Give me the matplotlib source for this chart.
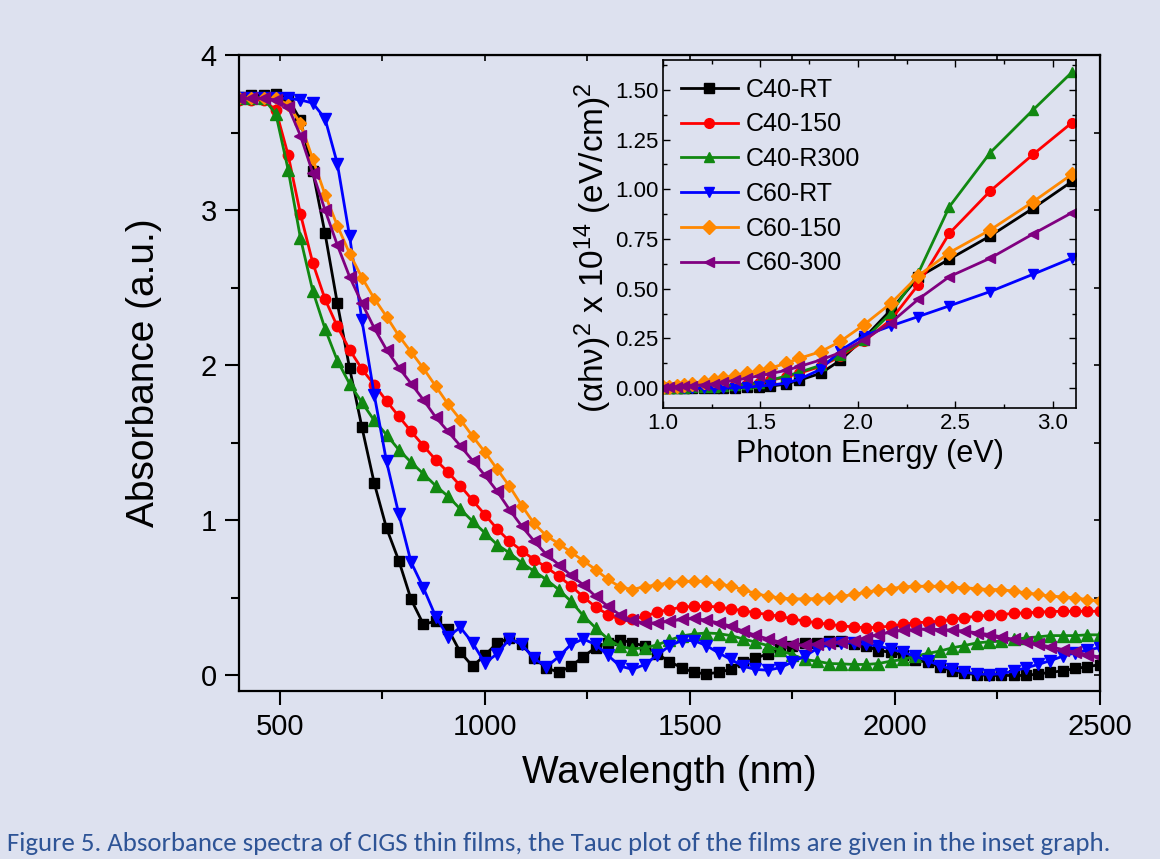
import numpy as np
import matplotlib.pyplot as plt
from matplotlib import font_manager
from matplotlib.ticker import MultipleLocator

plt.rcParams['font.family'] = ['Liberation Sans', 'DejaVu Sans']
plt.rcParams['mathtext.default'] = 'regular'

# Absorbance spectra, markers every 30 nm from 400 to 2500 nm
wavelength = np.arange(400, 2501, 30)

c40_rt = [3.73, 3.74, 3.74, 3.75, 3.72, 3.58, 3.25, 2.85, 2.40, 1.98,
          1.60, 1.24, 0.95, 0.74, 0.49, 0.33, 0.35, 0.30, 0.15, 0.06,
          0.13, 0.21, 0.24, 0.20, 0.11, 0.05, 0.02, 0.06, 0.12, 0.18,
          0.21, 0.23, 0.21, 0.19, 0.14, 0.09, 0.05, 0.02, 0.01, 0.02,
          0.04, 0.09, 0.11, 0.14, 0.17, 0.19, 0.21, 0.21, 0.22, 0.22,
          0.20, 0.19, 0.16, 0.15, 0.13, 0.10, 0.085, 0.056, 0.03, 0.013,
          0.006, 0.0, 0.0, 0.0, 0.0, 0.01, 0.02, 0.03, 0.045, 0.056,
          0.07]
c40_150 = [3.71, 3.71, 3.71, 3.645, 3.355, 2.975, 2.66, 2.426, 2.25, 2.10,
           1.975, 1.874, 1.77, 1.67, 1.573, 1.481, 1.39, 1.311, 1.223, 1.129,
           1.037, 0.944, 0.865, 0.805, 0.747, 0.698, 0.64, 0.578, 0.507, 0.442,
           0.393, 0.361, 0.363, 0.382, 0.408, 0.425, 0.44, 0.446, 0.446, 0.442,
           0.429, 0.418, 0.404, 0.393, 0.382, 0.365, 0.35, 0.34, 0.329, 0.32,
           0.313, 0.307, 0.311, 0.318, 0.329, 0.34, 0.344, 0.35, 0.361, 0.372,
           0.382, 0.389, 0.393, 0.40, 0.404, 0.408, 0.412, 0.414, 0.414, 0.414,
           0.414]
c40_r300 = [3.72, 3.72, 3.72, 3.62, 3.26, 2.82, 2.48, 2.235, 2.03, 1.88,
            1.76, 1.644, 1.552, 1.455, 1.374, 1.30, 1.223, 1.155, 1.073, 0.994,
            0.919, 0.843, 0.79, 0.726, 0.672, 0.618, 0.554, 0.478, 0.386, 0.307,
            0.236, 0.187, 0.172, 0.178, 0.197, 0.227, 0.255, 0.267, 0.274, 0.27,
            0.257, 0.236, 0.215, 0.193, 0.161, 0.135, 0.103, 0.092, 0.077, 0.075,
            0.071, 0.071, 0.077, 0.092, 0.103, 0.124, 0.142, 0.157, 0.178, 0.193,
            0.21, 0.217, 0.221, 0.232, 0.242, 0.249, 0.257, 0.257, 0.257, 0.262,
            0.262]
c60_rt = [3.72, 3.72, 3.72, 3.72, 3.72, 3.71, 3.69, 3.59, 3.30, 2.83,
          2.29, 1.81, 1.38, 1.04, 0.73, 0.565, 0.38, 0.25, 0.31, 0.21,
          0.08, 0.14, 0.236, 0.20, 0.11, 0.056, 0.12, 0.20, 0.235, 0.20,
          0.13, 0.06, 0.04, 0.07, 0.13, 0.19, 0.225, 0.225, 0.193, 0.146,
          0.103, 0.06, 0.039, 0.034, 0.05, 0.086, 0.124, 0.172, 0.20, 0.21,
          0.21, 0.20, 0.19, 0.17, 0.15, 0.124, 0.096, 0.064, 0.039, 0.021,
          0.011, 0.006, 0.011, 0.028, 0.049, 0.071, 0.096, 0.124, 0.146, 0.163,
          0.18]
c60_150 = [3.72, 3.72, 3.72, 3.72, 3.68, 3.56, 3.33, 3.10, 2.90, 2.72,
           2.565, 2.43, 2.314, 2.19, 2.085, 1.98, 1.865, 1.75, 1.65, 1.542,
           1.44, 1.33, 1.22, 1.095, 0.98, 0.90, 0.85, 0.795, 0.74, 0.683,
           0.62, 0.57, 0.554, 0.573, 0.583, 0.599, 0.607, 0.607, 0.607, 0.592,
           0.575, 0.554, 0.528, 0.511, 0.50, 0.494, 0.494, 0.496, 0.50, 0.51,
           0.522, 0.537, 0.55, 0.56, 0.571, 0.575, 0.575, 0.575, 0.571, 0.565,
           0.56, 0.554, 0.554, 0.543, 0.533, 0.522, 0.511, 0.507, 0.50, 0.489,
           0.479]
c60_300 = [3.72, 3.72, 3.72, 3.71, 3.666, 3.48, 3.24, 3.0, 2.775, 2.57,
           2.40, 2.24, 2.10, 1.985, 1.882, 1.777, 1.665, 1.573, 1.481, 1.385,
           1.29, 1.187, 1.069, 0.962, 0.867, 0.78, 0.715, 0.645, 0.585, 0.51,
           0.446, 0.39, 0.355, 0.337, 0.339, 0.35, 0.361, 0.368, 0.356, 0.339,
           0.318, 0.286, 0.26, 0.236, 0.215, 0.20, 0.195, 0.20, 0.21, 0.215,
           0.221, 0.242, 0.264, 0.279, 0.292, 0.296, 0.30, 0.296, 0.292, 0.286,
           0.275, 0.264, 0.249, 0.232, 0.217, 0.20, 0.185, 0.167, 0.15, 0.135,
           0.118]

# Tauc plot (inset)
energy = [1.00, 1.03, 1.07, 1.11, 1.15, 1.21, 1.26, 1.31, 1.37, 1.43, 1.49, 1.55,
          1.63, 1.70, 1.81, 1.91, 2.03, 2.17, 2.31, 2.47, 2.68, 2.90, 3.10]
tauc_c40_rt = [0, 0, 0, 0, 0, 0, 0, 0, 0.002, 0.004, 0.006, 0.01,
               0.02, 0.04, 0.075, 0.14, 0.25, 0.394, 0.558, 0.649, 0.766, 0.905, 1.04]
tauc_c40_150 = [0, 0, 0, 0.002, 0.004, 0.006, 0.008, 0.012, 0.016, 0.02, 0.028, 0.04,
                0.055, 0.075, 0.11, 0.16, 0.235, 0.344, 0.52, 0.779, 0.992, 1.176, 1.336]
tauc_c40_r300 = [0, 0, 0, 0.002, 0.004, 0.006, 0.008, 0.012, 0.016, 0.02, 0.028, 0.04,
                 0.06, 0.08, 0.115, 0.165, 0.243, 0.377, 0.578, 0.913, 1.185, 1.40, 1.59]
tauc_c60_rt = [0, 0, 0, 0, 0, 0, 0, 0, 0.002, 0.005, 0.01, 0.015,
               0.025, 0.045, 0.095, 0.189, 0.263, 0.313, 0.36, 0.414, 0.486, 0.573, 0.654]
tauc_c60_150 = [0.005, 0.008, 0.012, 0.018, 0.022, 0.03, 0.04, 0.05, 0.063, 0.075, 0.085, 0.10,
                0.125, 0.15, 0.184, 0.235, 0.318, 0.427, 0.565, 0.682, 0.796, 0.938, 1.076]
tauc_c60_300 = [0.003, 0.005, 0.007, 0.01, 0.013, 0.017, 0.022, 0.03, 0.04, 0.05, 0.062, 0.073,
                0.089, 0.109, 0.142, 0.179, 0.243, 0.33, 0.447, 0.561, 0.654, 0.776, 0.883]

labels = ['C40-RT', 'C40-150', 'C40-R300', 'C60-RT', 'C60-150', 'C60-300']
colors = ['black', '#ff0000', '#118811', '#0000ff', '#ff8800', '#800080']
markers = ['s', 'o', '^', 'v', 'D', '<']
msizes = [6.5, 7.5, 8, 8, 6.5, 8]

caption = ('Figure 5. Absorbance spectra of CIGS thin films, the Tauc plot of the films '
           'are given in the inset graph.')

bg = '#dde1ef'
fig = plt.figure(figsize=(11.6, 8.59), dpi=100, facecolor=bg)

# main plot
ax = fig.add_axes([0.206, 0.1956, 0.742, 0.7404], facecolor=bg)
main_data = [c40_rt, c40_150, c40_r300, c60_rt, c60_150, c60_300]
for y, lab, c, m, ms in zip(main_data, labels, colors, markers, msizes):
    ax.plot(wavelength, y, color=c, marker=m, markersize=ms, lw=2, label=lab)

ax.set_xlim(400, 2500)
ax.set_ylim(-0.1, 4)
ax.xaxis.set_major_locator(MultipleLocator(500))
ax.xaxis.set_minor_locator(MultipleLocator(250))
ax.yaxis.set_major_locator(MultipleLocator(1))
ax.yaxis.set_minor_locator(MultipleLocator(0.5))
ax.tick_params(which='major', direction='out', length=10, width=1.5, labelsize=21, pad=6)
ax.tick_params(which='minor', direction='out', length=6, width=1.5)
for s in ax.spines.values():
    s.set_linewidth(1.6)
ax.set_xlabel('Wavelength (nm)', fontsize=28, labelpad=10)
ax.set_ylabel('Absorbance (a.u.)', fontsize=28, labelpad=28)

top = ax.secondary_xaxis('top')
top.xaxis.set_major_locator(MultipleLocator(500))
top.xaxis.set_minor_locator(MultipleLocator(250))
top.tick_params(which='both', direction='in', length=4, width=1.2, labeltop=False)
right = ax.secondary_yaxis('right')
right.yaxis.set_major_locator(MultipleLocator(1))
right.yaxis.set_minor_locator(MultipleLocator(0.5))
right.tick_params(which='both', direction='in', length=4, width=1.2, labelright=False)

# inset
ins = fig.add_axes([0.5716, 0.525, 0.356, 0.405], facecolor=bg)
inset_data = [tauc_c40_rt, tauc_c40_150, tauc_c40_r300, tauc_c60_rt, tauc_c60_150, tauc_c60_300]
for y, lab, c, m in zip(inset_data, labels, colors, markers):
    ins.plot(energy, y, color=c, marker=m, markersize=7, lw=2, label=lab)
ins.set_xlim(1.0, 3.12)
ins.set_ylim(-0.1, 1.65)
ins.xaxis.set_major_locator(MultipleLocator(0.5))
ins.xaxis.set_minor_locator(MultipleLocator(0.25))
ins.yaxis.set_major_locator(MultipleLocator(0.25))
ins.yaxis.set_minor_locator(MultipleLocator(0.125))
ins.xaxis.set_major_formatter(plt.FormatStrFormatter('%.1f'))
ins.yaxis.set_major_formatter(plt.FormatStrFormatter('%.2f'))
ins.tick_params(which='both', direction='in', top=True, right=True, width=1, labelsize=16)
ins.tick_params(which='major', length=5)
ins.tick_params(which='minor', length=3)
for s in ins.spines.values():
    s.set_linewidth(1.2)
ins.set_xlabel('Photon Energy (eV)', fontsize=22, labelpad=4)
ins.set_ylabel('(αhν)$^2$ x 10$^{14}$ (eV/cm)$^2$', fontsize=24)
ins.yaxis.set_label_coords(-0.118, 0.46)
ins.legend(loc='upper left', frameon=False, fontsize=18, handlelength=2.3,
           labelspacing=0.43, handletextpad=0.3, borderaxespad=0.3)

# caption: pick a narrow humanist face if present, fit its width to the reference
installed = {f.name for f in font_manager.fontManager.ttflist}
cap_font = next((n for n in ['Carlito', 'Liberation Sans Narrow', 'Lato', 'Liberation Sans']
                 if n in installed), 'DejaVu Sans')
cap = fig.text(0.006, 0.018, caption, color='#2e5496', fontsize=16, family=cap_font,
               va='center', ha='left')
fig.canvas.draw()
cap.set_fontsize(16 * 1105 / cap.get_window_extent().width)

fig.savefig('out.png', dpi=100, facecolor=bg)
